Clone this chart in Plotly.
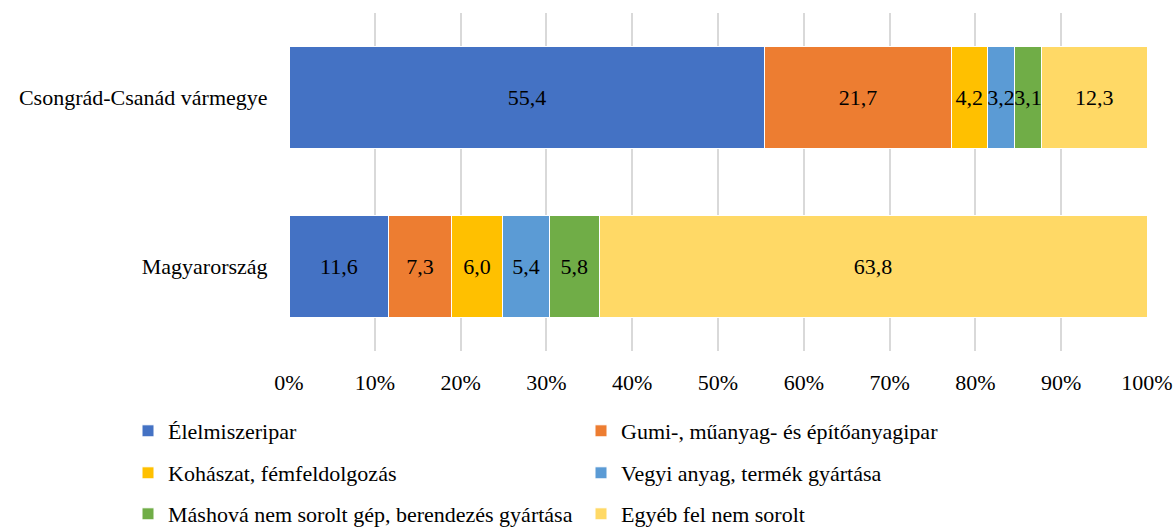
import plotly.graph_objects as go

categories = ["Magyarország", "Csongrád-Csanád vármegye"]
series_names = [
    "Élelmiszeripar",
    "Gumi-, műanyag- és építőanyagipar",
    "Kohászat, fémfeldolgozás",
    "Vegyi anyag, termék gyártása",
    "Máshová nem sorolt gép, berendezés gyártása",
    "Egyéb fel nem sorolt",
]
# values per series: [Magyarország, Csongrád-Csanád vármegye]
elelmiszer = [11.6, 55.4]
gumi = [7.3, 21.7]
kohaszat = [6.0, 4.2]
vegyi = [5.4, 3.2]
gep = [5.8, 3.1]
egyeb = [63.8, 12.3]
series_values = [elelmiszer, gumi, kohaszat, vegyi, gep, egyeb]
colors = ["#4472C4", "#ED7D31", "#FFC000", "#5B9BD5", "#70AD47", "#FFD966"]

FONT = "Liberation Serif"
FS = 22

fig = go.Figure()
legend_ids = ["legend", "legend", "legend2", "legend2", "legend3", "legend3"]
for name, vals, col, lg in zip(series_names, series_values, colors, legend_ids):
    fig.add_trace(go.Bar(
        y=categories, x=vals, name=name, orientation="h",
        marker=dict(color=col, line=dict(color="white", width=1)),
        text=[f"{v:.1f}".replace(".", ",") for v in vals],
        textposition="inside", insidetextanchor="middle", textangle=0,
        textfont=dict(family=FONT, size=FS, color="black"),
        constraintext="none", cliponaxis=False,
        legend=lg,
    ))

L, R, T, B = 289, 29, 13, 176
PW, PH = 1176 - L - R, 527 - T - B
lx = (128 - L) / PW


def ly(ypix):
    return (527 - B - ypix) / PH


leg_common = dict(orientation="h", xref="paper", yref="paper",
                  xanchor="left", yanchor="middle", entrywidth=408,
                  font=dict(family=FONT, size=FS, color="black"),
                  bgcolor="rgba(0,0,0,0)", itemclick=False, traceorder="normal")
fig.update_layout(
    barmode="stack", barnorm="percent", bargap=0.4,
    width=1176, height=527,
    margin=dict(l=L, r=R, t=T, b=B, autoexpand=False),
    paper_bgcolor="white", plot_bgcolor="white",
    font=dict(family=FONT, size=FS, color="black"),
    uniformtext=dict(minsize=FS, mode="show"),
    xaxis=dict(range=[0, 100], dtick=10, ticksuffix="%", showgrid=True,
               gridcolor="#D9D9D9", gridwidth=1.5, zeroline=False,
               showline=False, ticks="outside", ticklen=12, tickcolor="rgba(0,0,0,0)",
               automargin=False,
               tickfont=dict(family=FONT, size=FS, color="black")),
    yaxis=dict(categoryorder="array", categoryarray=categories, showgrid=False,
               ticks="outside", ticklen=16, tickcolor="rgba(0,0,0,0)",
               automargin=False,
               tickfont=dict(family=FONT, size=FS, color="black")),
    legend=dict(x=lx, y=ly(431), **leg_common),
    legend2=dict(x=lx, y=ly(473), **leg_common),
    legend3=dict(x=lx, y=ly(514), **leg_common),
    showlegend=True,
)
fig.write_html("out.html", config={"displayModeBar": False},
               post_script="document.body.style.margin='0';")
